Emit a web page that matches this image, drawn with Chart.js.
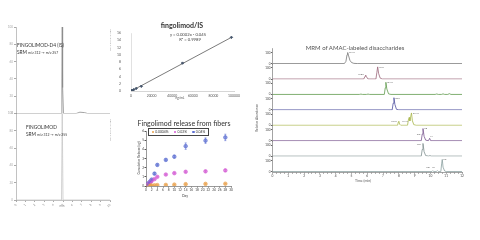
<!DOCTYPE html>
<html>
<head>
<meta charset="utf-8">
<script src="https://cdn.jsdelivr.net/npm/chart.js@4.4.1/dist/chart.umd.min.js"></script>
<style>
html, body { margin: 0; padding: 0; background: #fff; width: 480px; height: 240px; overflow: hidden; font-family: Lato, "Open Sans", sans-serif; }
.box { position: absolute; }
.t { position: absolute; white-space: nowrap; line-height: 1; color: #333; transform: translate(0, -50%); }
.c { transform: translate(-50%, -50%); }
.r { transform: translate(-50%, -50%) rotate(-90deg); }
#legend { position: absolute; left: 148px; top: 128px; width: 59px; height: 6px; border: 0.5px solid #444; display: flex; justify-content: space-around; align-items: center; font-size: 3.4px; color: #333; }
#legend span i { display: inline-block; width: 2.4px; height: 2.4px; border-radius: 50%; margin-right: 1px; vertical-align: middle; }
</style>
</head>
<body>
<div class="box" style="left:0;top:22px;width:116px;height:186px"><canvas id="srm"></canvas></div>
<div class="box" style="left:112px;top:28px;width:130px;height:72px"><canvas id="cal"></canvas></div>
<div class="box" style="left:122px;top:126px;width:114px;height:68px"><canvas id="rel"></canvas></div>
<div class="box" style="left:256px;top:46px;width:211px;height:142px"><canvas id="mrm"></canvas></div>

<div class="t" style="left:17px;top:45px;font-size:4.8px">FINGOLIMOD-D4 (IS)</div>
<div class="t" style="left:17px;top:52.5px;font-size:3.4px"><span style="font-size:4.8px">SRM</span> m/z 312 → m/z 257</div>
<div class="t" style="left:26px;top:127px;font-size:4.8px">FINGOLIMOD</div>
<div class="t" style="left:26px;top:135px;font-size:3.4px"><span style="font-size:4.8px">SRM</span> m/z 312 → m/z 255</div>
<div class="t c" style="left:62px;top:206px;font-size:3px;color:#888">min</div>
<div class="t r" style="left:110px;top:40px;font-size:2.6px;color:#999">RT: 4.92 NL: 1.5E5</div>
<div class="t r" style="left:110px;top:130px;font-size:2.6px;color:#999">RT: 4.92 NL: 2.1E3</div>

<div class="t c" style="left:182px;top:25px;font-size:7px;font-weight:bold">fingolimod/IS</div>
<div class="t c" style="left:188px;top:34.5px;font-size:4.2px;color:#444">y = 0.0002x - 0.045</div>
<div class="t c" style="left:190px;top:39.5px;font-size:4.2px;color:#444">R² = 0.9989</div>
<div class="t c" style="left:180px;top:98.5px;font-size:3.2px;color:#555">ng/mL</div>

<div class="t c" style="left:184px;top:123px;font-size:7px">Fingolimod release from fibers</div>
<div id="legend"></div>
<div class="t r" style="left:140px;top:158px;font-size:3.2px;color:#444">Cumulative Release (ug)</div>
<div class="t c" style="left:185px;top:197px;font-size:3.5px;color:#444">Day</div>

<div class="t c" style="left:355px;top:48px;font-size:6px;color:#555">MRM of AMAC-labeled disaccharides</div>
<div class="t c" style="left:363px;top:182px;font-size:3.5px;color:#555">Time (min)</div>
<div class="t r" style="left:258px;top:118px;font-size:3.2px;color:#555">Relative Abundance</div>

<script>
// SRM chromatograms, [time (min), relative abundance]
var srmIS = [[0, 0], [4.82, 0], [4.88, 40], [4.92, 100], [4.96, 30], [5.05, 0], [6.4, 0], [6.8, 1.5], [7.3, 1], [7.6, 0], [10, 0]];
var srmDrug = [[0, 0], [4.84, 0], [4.92, 100], [5.0, 0], [10, 0]];

// calibration curve fingolimod/IS
var calX = [100, 500, 1000, 2500, 5000, 10000, 50000, 97500];
var calY = [0.0, 0.05, 0.12, 0.35, 0.7, 1.3, 7.7, 14.8];
var calTicks = [0, 20000, 40000, 60000, 80000, 100000];
var trendX = [0, 97500];
var trendY = [-0.05, 14.8];

// release from fibers
var relDays = [0.5, 1, 1.5, 2, 3, 4, 7, 10, 14, 21, 28];
var relLabels = ['0.0004%', '0.02%', '0.04%'];
var relColors = ['#e9a04a', '#d45ad4', '#5d6fd2'];
var rel0004 = [0.02, 0.04, 0.05, 0.06, 0.08, 0.1, 0.12, 0.15, 0.2, 0.23, 0.25];
var rel002 = [0.1, 0.25, 0.4, 0.55, 0.75, 1.0, 1.25, 1.4, 1.55, 1.6, 1.7];
var rel004 = [0.15, 0.35, 0.5, 0.7, 1.35, 2.3, 2.85, 3.2, 4.35, 4.95, 5.3];
var err0004 = [0.02, 0.02, 0.02, 0.02, 0.03, 0.03, 0.03, 0.04, 0.05, 0.05, 0.05];
var err002 = [0.03, 0.03, 0.04, 0.04, 0.05, 0.05, 0.06, 0.08, 0.1, 0.1, 0.12];
var err004 = [0.05, 0.05, 0.05, 0.06, 0.1, 0.1, 0.1, 0.15, 0.35, 0.3, 0.35];

// MRM traces, [time (min), relative abundance]
var mrm1 = [[0, 0], [4.55, 0], [4.65, 20], [4.72, 80], [4.76, 100], [4.82, 70], [4.9, 30], [5.0, 10], [5.15, 2], [5.4, 0], [12, 0]];
var mrm2 = [[0, 0], [5.78, 0], [5.86, 25], [5.9, 35], [5.95, 20], [6.05, 0], [6.55, 0], [6.61, 60], [6.66, 110], [6.72, 50], [6.82, 8], [6.95, 0], [12, 0]];
var mrm3 = [[0, 0], [5.5, 0], [5.6, 3], [5.7, 0], [5.95, 0], [6.05, 3], [6.15, 0], [7.08, 0], [7.14, 60], [7.18, 110], [7.24, 50], [7.35, 5], [7.5, 0], [10.3, 0], [10.4, 4], [10.5, 0], [10.7, 0], [10.8, 5], [10.9, 0], [11.1, 0], [11.2, 7], [11.3, 0], [12, 0]];
var mrm4 = [[0, 0], [7.58, 0], [7.64, 60], [7.69, 110], [7.75, 50], [7.85, 5], [8.0, 0], [12, 0]];
var mrm5 = [[0, 0], [7.92, 0], [7.97, 30], [8.0, 36], [8.05, 10], [8.12, 0], [8.55, 0], [8.62, 60], [8.66, 72], [8.7, 40], [8.74, 70], [8.8, 112], [8.86, 40], [8.95, 5], [9.1, 0], [12, 0]];
var mrm6 = [[0, 0], [9.42, 0], [9.48, 60], [9.53, 110], [9.6, 40], [9.7, 5], [9.88, 0], [9.95, 22], [10.02, 0], [12, 0]];
var mrm7 = [[0, 0], [9.42, 0], [9.48, 60], [9.53, 115], [9.6, 40], [9.7, 5], [9.9, 0], [9.97, 5], [10.05, 0], [12, 0]];
var mrm8 = [[0, 0], [10.1, 0], [10.15, 8], [10.2, 0], [10.38, 0], [10.44, 9], [10.5, 0], [10.66, 0], [10.71, 70], [10.75, 110], [10.8, 40], [10.9, 5], [11.0, 0], [12, 0]];
var mrmTraces = [mrm1, mrm2, mrm3, mrm4, mrm5, mrm6, mrm7, mrm8];
var mrmColors = ['#777777', '#9a6478', '#5f9a4c', '#4f51a0', '#a8b64a', '#7b5890', '#7f8f8f', '#8aa0a0'];
// peak names [time, abundance, text]
var mrmPeaks = [
    [[4.8, 100, 'IVAH']],
    [[5.4, 45, 'IVSH'], [6.72, 110, 'IIAH']],
    [[7.22, 110, 'IIIAH']],
    [[7.73, 110, 'IISH']],
    [[7.5, 36, 'IIIAH'], [8.2, 40, 'IIAH'], [8.85, 112, 'IIIAH']],
    [[9.1, 60, 'IIIS'], [9.58, 110, 'IIS'], [9.98, 40, 'IA']],
    [[9.1, 110, 'IVS']],
    [[9.7, 40, 'IIIS'], [10.1, 40, 'IS'], [10.8, 110, 'IIS']]
];

Chart.defaults.font.family = 'Lato, "Open Sans", sans-serif';
Chart.defaults.animation = false;
Chart.defaults.color = '#555';

function fixW(w) { return function (s) { s.width = w; }; }
function fixH(h) { return function (s) { s.height = h; }; }
function pts(arr) { return arr.map(function (p) { return { x: p[0], y: p[1] }; }); }
function pairs(xs, ys) { return xs.map(function (x, i) { return { x: x, y: ys[i] }; }); }

var noPlugins = { legend: { display: false }, tooltip: { enabled: false } };

// legend for the release chart
var lg = document.getElementById('legend');
relLabels.forEach(function (l, i) {
    lg.innerHTML += '<span><i style="background:' + relColors[i] + '"></i>' + l + '</span>';
});

// error bars
var errorBars = {
    id: 'errorBars',
    afterDatasetsDraw: function (chart) {
        var ctx = chart.ctx, xs = chart.scales.x, ys = chart.scales.y;
        chart.data.datasets.forEach(function (ds) {
            if (!ds.errors) return;
            ctx.save();
            ctx.strokeStyle = ds.borderColor;
            ctx.lineWidth = 0.6;
            ds.data.forEach(function (p, i) {
                var x = xs.getPixelForValue(p.x);
                var y1 = ys.getPixelForValue(p.y + ds.errors[i]);
                var y2 = ys.getPixelForValue(p.y - ds.errors[i]);
                ctx.beginPath();
                ctx.moveTo(x, y1); ctx.lineTo(x, y2);
                ctx.moveTo(x - 1, y1); ctx.lineTo(x + 1, y1);
                ctx.moveTo(x - 1, y2); ctx.lineTo(x + 1, y2);
                ctx.stroke();
            });
            ctx.restore();
        });
    }
};

// peak names
var peakNames = {
    id: 'peakNames',
    afterDatasetsDraw: function (chart) {
        var ctx = chart.ctx, xs = chart.scales.x;
        ctx.save();
        ctx.font = '2.6px Lato, sans-serif';
        ctx.fillStyle = '#444';
        ctx.textBaseline = 'middle';
        mrmPeaks.forEach(function (list, i) {
            var ys = chart.scales['y' + i];
            list.forEach(function (pk) {
                ctx.fillText(pk[2], xs.getPixelForValue(pk[0]) + 0.5, ys.getPixelForValue(pk[1]));
            });
        });
        ctx.restore();
    }
};

// SRM chromatograms (stacked axes: the one defined first ends up lowest)
var srmAxis = function () {
    return {
        position: 'left', stack: 'srm', stackWeight: 1, min: 0, max: 100,
        ticks: { stepSize: 10, font: { size: 3 }, padding: 1, color: '#aaa' },
        grid: { drawOnChartArea: false, tickLength: 2, color: '#aaa' },
        border: { color: '#999', width: 0.6 },
        afterFit: fixW(16)
    };
};
new Chart(document.getElementById('srm'), {
    type: 'scatter',
    data: {
        datasets: [
            { data: pts(srmIS), yAxisID: 'yTop', showLine: true, borderColor: '#8c8c8c', borderWidth: 0.8, pointRadius: 0 },
            { data: pts(srmDrug), yAxisID: 'yBot', showLine: true, borderColor: '#c8c8c8', borderWidth: 0.8, pointRadius: 0 }
        ]
    },
    options: {
        responsive: true, maintainAspectRatio: false,
        layout: { padding: { top: 5, right: 6, left: 0, bottom: 0 } },
        plugins: noPlugins,
        scales: {
            x: {
                min: 0, max: 10,
                ticks: { stepSize: 1, font: { size: 3 }, padding: 1, color: '#888' },
                grid: { drawOnChartArea: false, tickLength: 2, color: '#aaa' },
                border: { color: '#999', width: 0.6 },
                afterFit: fixH(8)
            },
            yBot: srmAxis(),
            yTop: srmAxis()
        }
    }
});

// calibration curve
new Chart(document.getElementById('cal'), {
    type: 'scatter',
    data: {
        datasets: [
            { data: pairs(calX, calY), pointStyle: 'rectRot', pointRadius: 1.2, backgroundColor: '#44546a', borderColor: '#44546a' },
            { data: pairs(trendX, trendY), showLine: true, borderColor: '#595959', borderWidth: 0.8, pointRadius: 0 }
        ]
    },
    options: {
        responsive: true, maintainAspectRatio: false,
        layout: { padding: { top: 5, right: 8, left: 0, bottom: 0 } },
        plugins: noPlugins,
        scales: {
            x: {
                type: 'linear', min: 0, max: 100000,
                afterBuildTicks: function (s) { s.ticks = calTicks.map(function (v) { return { value: v }; }); },
                ticks: {
                    font: { size: 3.4 }, padding: 1.5, color: '#555',
                    maxRotation: 0, autoSkip: false,
                    callback: function (v) { return String(v); }
                },
                grid: { drawOnChartArea: false, tickLength: 1, color: '#ccc' },
                border: { color: '#bbb', width: 0.6 },
                afterFit: fixH(9)
            },
            y: {
                min: 0, max: 16,
                ticks: { stepSize: 2, font: { size: 3.4 }, padding: 2, color: '#555' },
                grid: { display: false },
                border: { color: '#ccc', width: 0.6 },
                afterFit: fixW(19)
            }
        }
    }
});

// release from fibers
var relSeries = [rel0004, rel002, rel004];
var relErrors = [err0004, err002, err004];
new Chart(document.getElementById('rel'), {
    type: 'scatter',
    data: {
        datasets: relSeries.map(function (s, i) {
            return {
                label: relLabels[i],
                data: pairs(relDays, s),
                errors: relErrors[i],
                pointRadius: 1.8,
                borderWidth: 0.6,
                borderColor: relColors[i],
                backgroundColor: relColors[i] + 'aa'
            };
        })
    },
    options: {
        responsive: true, maintainAspectRatio: false,
        layout: { padding: { top: 5, right: 5, left: 19, bottom: 0 } },
        plugins: noPlugins,
        scales: {
            x: {
                min: 0, max: 30,
                ticks: { stepSize: 2, font: { size: 3.2 }, padding: 0.5, color: '#444', maxRotation: 0, autoSkip: false },
                grid: { drawOnChartArea: false, tickLength: 1.5, color: '#555' },
                border: { color: '#555', width: 0.6 },
                afterFit: fixH(8)
            },
            y: {
                min: 0, max: 6,
                ticks: { stepSize: 1, font: { size: 3.2 }, padding: 0.5, color: '#444' },
                grid: { drawOnChartArea: false, tickLength: 1.5, color: '#555' },
                border: { color: '#555', width: 0.6 },
                afterFit: fixW(5)
            }
        }
    },
    plugins: [errorBars]
});

// MRM stacked traces
var mrmScales = {
    x: {
        min: 0, max: 12,
        afterBuildTicks: function (s) {
            var t = [];
            for (var v = 0; v <= 48; v++) t.push({ value: v / 4 });
            s.ticks = t;
        },
        ticks: {
            font: { size: 3.2 }, padding: 0.5, color: '#444', maxRotation: 0, autoSkip: false,
            callback: function (v) { return Number.isInteger(v) ? v : ''; }
        },
        grid: { drawOnChartArea: false, tickLength: 1.5, color: '#666' },
        border: { color: '#666', width: 0.6 },
        afterFit: fixH(9)
    }
};
// define the bottom trace's axis first so trace 1 lands on top
for (var k = mrmTraces.length - 1; k >= 0; k--) {
    mrmScales['y' + k] = {
        position: 'left', stack: 'mrm', stackWeight: 1, min: -4, max: 136,
        afterBuildTicks: function (s) { s.ticks = [{ value: 0 }, { value: 100 }]; },
        ticks: { font: { size: 3 }, padding: 0.5, color: '#444' },
        grid: { drawOnChartArea: false, tickLength: 1.5, color: '#666' },
        border: { color: '#666', width: 0.6 },
        afterFit: fixW(16.5)
    };
}
new Chart(document.getElementById('mrm'), {
    type: 'scatter',
    data: {
        datasets: mrmTraces.map(function (tr, i) {
            return { data: pts(tr), yAxisID: 'y' + i, showLine: true, borderColor: mrmColors[i], borderWidth: 0.8, pointRadius: 0 };
        })
    },
    options: {
        responsive: true, maintainAspectRatio: false,
        layout: { padding: { top: 2.6, right: 5, left: 0, bottom: 7 } },
        plugins: noPlugins,
        scales: mrmScales
    },
    plugins: [peakNames]
});
</script>
</body>
</html>
